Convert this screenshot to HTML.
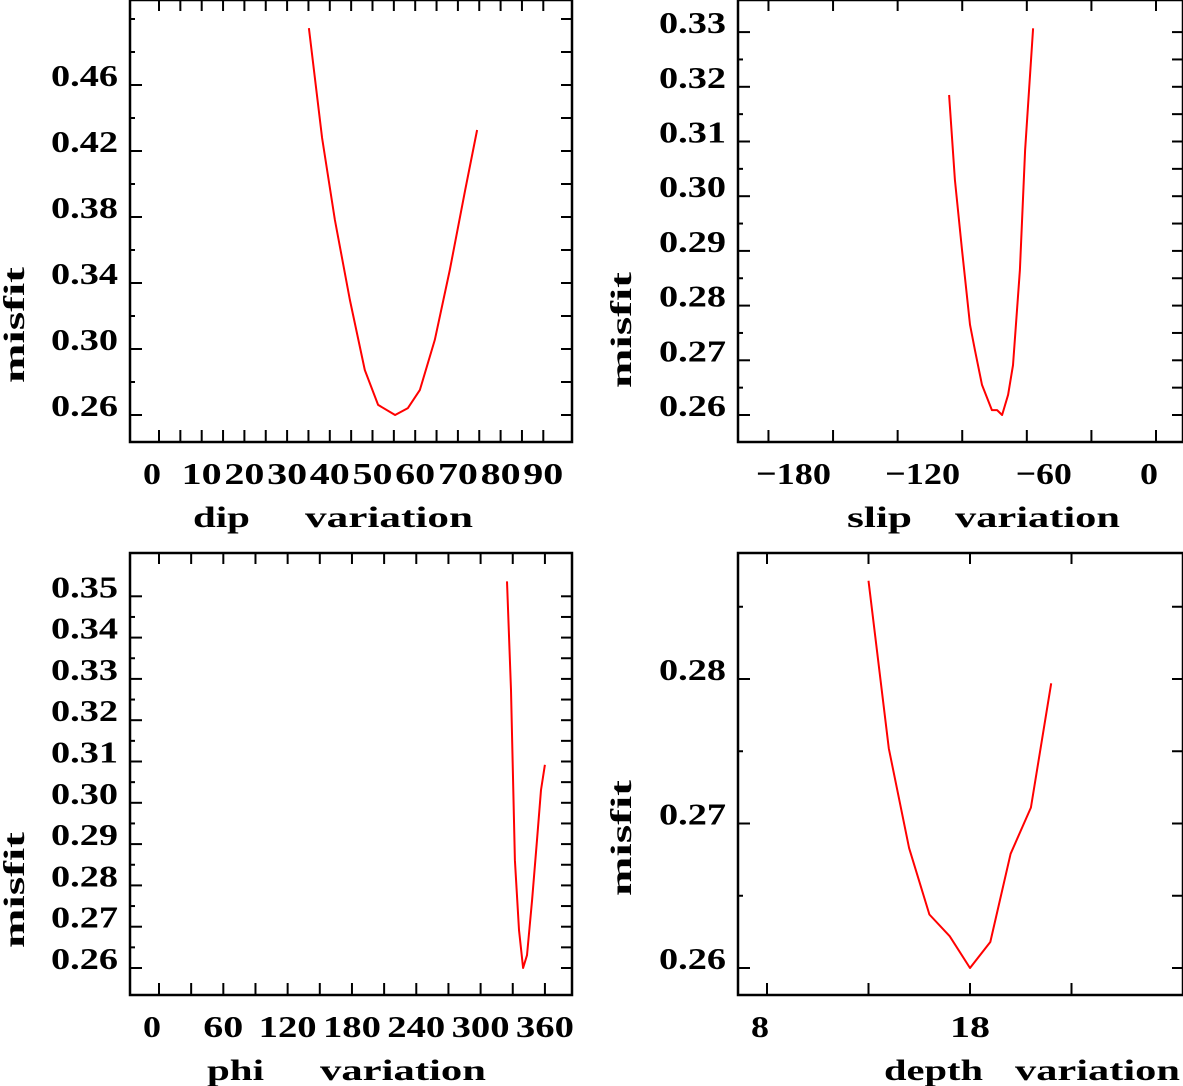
<!DOCTYPE html>
<html><head><meta charset="utf-8"><style>
html,body{margin:0;padding:0;background:#fff;}
svg{display:block;}
text{font-family:"Liberation Serif",serif;font-weight:bold;fill:#000;}
</style></head>
<body>
<svg id="chart" width="1183" height="1086" viewBox="0 0 1183 1086" xmlns="http://www.w3.org/2000/svg"></svg>
<script>
// ---- data ----
const dipValues = [35.1, 38.2, 41.2, 44.7, 48.2, 51.3, 55.3, 58.3, 61.1, 64.6, 68.1, 71.7, 74.5];
const dipMisfit = [0.4945, 0.4279, 0.3782, 0.3297, 0.2873, 0.2661, 0.2600, 0.2642, 0.2752, 0.3055, 0.3479, 0.3964, 0.4327];
const slipValues = [-96.1, -93.4, -90.1, -86.4, -84.1, -80.8, -76.2, -73.8, -71.5, -68.7, -66.4, -63.2, -60.8, -57.1];
const slipMisfit = [0.3185, 0.3030, 0.2902, 0.2765, 0.2719, 0.2655, 0.2609, 0.2609, 0.2600, 0.2637, 0.2691, 0.2865, 0.3084, 0.3307];
const phiValues = [324.6, 328.4, 332.0, 335.8, 339.6, 343.3, 348.0, 352.6, 356.3, 360.0];
const phiMisfit = [0.3536, 0.3273, 0.2861, 0.2692, 0.2600, 0.2631, 0.2765, 0.2910, 0.3031, 0.3092];
const depthValues = [13, 14, 15, 16, 17, 18, 19, 20, 21, 22];
const depthMisfit = [0.2868, 0.2752, 0.2683, 0.2637, 0.2622, 0.2600, 0.2618, 0.2679, 0.2711, 0.2797];
const dipXTicks = [0, 10, 20, 30, 40, 50, 60, 70, 80, 90];
const slipXTicks = [-180, -120, -60, 0];
const phiXTicks = [0, 60, 120, 180, 240, 300, 360];
const depthXTicks = [8, 18];
const dipYTicks = [0.26, 0.30, 0.34, 0.38, 0.42, 0.46];
const slipYTicks = [0.26, 0.27, 0.28, 0.29, 0.30, 0.31, 0.32, 0.33];
const phiYTicks = [0.26, 0.27, 0.28, 0.29, 0.30, 0.31, 0.32, 0.33, 0.34, 0.35];
const depthYTicks = [0.26, 0.27, 0.28];

const NS = "http://www.w3.org/2000/svg";
const svg = document.getElementById('chart');
function mk(tag, attrs, parent){
  const e = document.createElementNS(NS, tag);
  for (const k in attrs) e.setAttribute(k, attrs[k]);
  (parent||svg).appendChild(e);
  return e;
}
function txt(s, x, y, size, len, anchor, parent){
  const t = mk('text', {x:x, y:y, 'font-size':size, 'text-anchor':anchor||'middle', textLength:len, lengthAdjust:'spacingAndGlyphs'}, parent);
  t.textContent = s;
  return t;
}

function panel(cfg){
  const g = mk('g', {});
  
  
  const X = v => cfg.x0 + (v - cfg.xv0) * cfg.xs;
  const Y = v => cfg.y0 - (v - 0.26) * cfg.ys;
  const L = cfg.L, R = cfg.R, T = cfg.T, B = cfg.B;
  const fr = mk('rect', {x:L, y:T, width:R-L, height:B-T, fill:'none', stroke:'#000', 'stroke-width':2.5}, g);
  
  
  for (let v = cfg.xtMin; v <= cfg.xtMax + 1e-9; v += cfg.xtStep){
    const px = X(v);
    if (px < L+2 || px > R-2) continue;
    mk('line', {x1:px, y1:B, x2:px, y2:B-12, stroke:'#000', 'stroke-width':2}, g);
    mk('line', {x1:px, y1:T, x2:px, y2:T+11, stroke:'#000', 'stroke-width':2}, g);
  }
  for (let i = 0; ; i++){
    const v = cfg.ytMin + i * cfg.ytStep;
    if (v > cfg.ytMax + 1e-9) break;
    const py = Y(v);
    const major = cfg.yTicks.some(t => Math.abs(t - v) < 1e-6);
    mk('line', {x1:L, y1:py, x2:L+(major?12:5), y2:py, stroke:'#000', 'stroke-width':2}, g);
    mk('line', {x1:R, y1:py, x2:R-11, y2:py, stroke:'#000', 'stroke-width':2}, g);
  }
  cfg.yTicks.forEach(v => {
    const t = txt(v.toFixed(2), L-12, Y(v)+1, 31, 67, 'end', g);
    
    
  });
  cfg.xTicks.forEach(v => {
    const s = v < 0 ? '\u2212' + (-v) : String(v);
    let off = 0;
    if (v < 0) off = (v === -60 ? 17 : 25);
    else if (s.length === 1) off = -7;
    const len = v < 0 ? (s.length === 4 ? 75 : 56) : (s.length === 1 ? 18 : s.length === 2 ? 40 : 58);
    const t = txt(s, X(v)+off, B+42, 31, len, 'middle', g);
    
    
  });
  cfg.titles.forEach(tt => {
    const t = txt(tt[0], tt[1], B+85, 30, tt[2], 'start', g);
    
    
  });
  const yt = mk('text', {x:0, y:0, 'font-size':30, 'text-anchor':'middle', textLength:116, lengthAdjust:'spacingAndGlyphs', transform:`translate(${cfg.ytx},${cfg.yty}) rotate(-90)`}, g);
  yt.textContent = 'misfit';
  
  
  const pts = cfg.xs_data.map((v,i) => X(v).toFixed(1) + ',' + Y(cfg.ys_data[i]).toFixed(1)).join(' ');
  const pl = mk('polyline', {points:pts, fill:'none', stroke:'#ff0000', 'stroke-width':2, 'stroke-linejoin':'round'}, g);
  
  
}

panel({name:'dip-panel', L:130, R:572, T:0, B:442, x0:159, xv0:0, xs:4.27, y0:415, ys:1650,
  xtMin:0, xtMax:90, xtStep:5, ytMin:0.26, ytMax:0.50, ytStep:0.02,
  yTicks:dipYTicks, xTicks:dipXTicks, xs_data:dipValues, ys_data:dipMisfit,
  titles:[['dip',193,57],['variation',305,168]], ytx:24, yty:325});
panel({name:'slip-panel', L:738, R:1183, T:0, B:442, x0:1156, xv0:0, xs:2.153, y0:415, ys:5470,
  xtMin:-180, xtMax:0, xtStep:30, ytMin:0.26, ytMax:0.33, ytStep:0.005,
  yTicks:slipYTicks, xTicks:slipXTicks, xs_data:slipValues, ys_data:slipMisfit,
  titles:[['slip',847,65],['variation',955,165]], ytx:631, yty:330});
panel({name:'phi-panel', L:130, R:572, T:553, B:995, x0:159, xv0:0, xs:1.072, y0:968, ys:4130,
  xtMin:0, xtMax:360, xtStep:30, ytMin:0.26, ytMax:0.35, ytStep:0.005,
  yTicks:phiYTicks, xTicks:phiXTicks, xs_data:phiValues, ys_data:phiMisfit,
  titles:[['phi',207,57],['variation',320,166]], ytx:24, yty:890});
panel({name:'depth-panel', L:738, R:1183, T:553, B:995, x0:767, xv0:8, xs:20.3, y0:968, ys:14450,
  xtMin:8, xtMax:23, xtStep:5, ytMin:0.26, ytMax:0.285, ytStep:0.005,
  yTicks:depthYTicks, xTicks:depthXTicks, xs_data:depthValues, ys_data:depthMisfit,
  titles:[['depth',884,99],['variation',1015,165]], ytx:631, yty:838});
</script>
</body></html>
